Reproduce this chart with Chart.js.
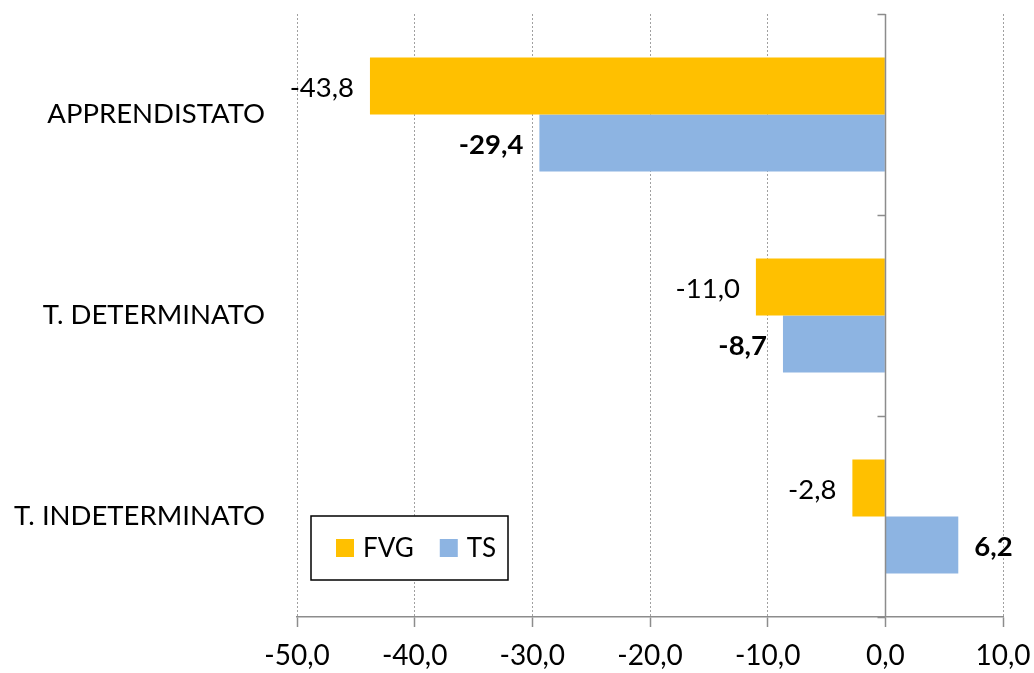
<!DOCTYPE html>
<html>
<head>
<meta charset="utf-8">
<script src="https://cdn.jsdelivr.net/npm/chart.js@4/dist/chart.umd.min.js"></script>
<style>
html,body{margin:0;padding:0;background:#fff;}
#wrap{width:1034px;height:673px;}
</style>
</head>
<body>
<div id="wrap"><canvas id="c" width="1034" height="673"></canvas></div>
<script>
const categories = ['APPRENDISTATO', 'T. DETERMINATO', 'T. INDETERMINATO'];
const fvgValues = [-43.8, -11.0, -2.8];
const tsValues = [-29.4, -8.7, 6.2];
const seriesNames = ['FVG', 'TS'];
const seriesColors = ['#FFC000', '#8DB4E2'];
const xTicks = [-50, -40, -30, -20, -10, 0, 10];

const FONT = 'Lato, "Open Sans", sans-serif';
const fmt = v => v.toFixed(1).replace('.', ',');

const zeroAxisPlugin = {
  id: 'zeroAxis',
  afterDatasetsDraw(chart) {
    const {ctx, chartArea, scales: {x, y}} = chart;
    const x0 = Math.round(x.getPixelForValue(0)) + 0.5;
    ctx.save();
    ctx.strokeStyle = '#8C8C8C';
    ctx.lineWidth = 1.5;
    ctx.beginPath();
    ctx.moveTo(x0, chartArea.top);
    ctx.lineTo(x0, chartArea.bottom);
    const bounds = [chartArea.top];
    for (let i = 0; i < categories.length - 1; i++) {
      bounds.push((y.getPixelForValue(i) + y.getPixelForValue(i + 1)) / 2);
    }
    bounds.push(chartArea.bottom);
    bounds.forEach(b => {
      const yy = Math.round(b) + 0.5;
      ctx.moveTo(x0 - 8, yy);
      ctx.lineTo(x0, yy);
    });
    ctx.stroke();
    ctx.restore();
  }
};

const dataLabelPlugin = {
  id: 'dataLabels',
  afterDatasetsDraw(chart) {
    const {ctx} = chart;
    ctx.save();
    chart.data.datasets.forEach((ds, di) => {
      const meta = chart.getDatasetMeta(di);
      ctx.font = (di === 1 ? 'bold ' : '') + '27.5px ' + FONT;
      ctx.fillStyle = '#000';
      ctx.textBaseline = 'middle';
      meta.data.forEach((el, i) => {
        const v = ds.data[i];
        const neg = v < 0;
        ctx.textAlign = neg ? 'right' : 'left';
        ctx.fillText(fmt(v), el.x + (neg ? -16 : 16), el.y + 2);
      });
    });
    ctx.restore();
  }
};

const boxLegendPlugin = {
  id: 'boxLegend',
  afterDraw(chart) {
    const {ctx} = chart;
    const bx = 311, by = 516, bw = 197, bh = 64;
    ctx.save();
    ctx.fillStyle = '#fff';
    ctx.fillRect(bx, by, bw, bh);
    ctx.strokeStyle = '#000';
    ctx.lineWidth = 1.5;
    ctx.strokeRect(bx, by, bw, bh);
    ctx.font = '26px ' + FONT;
    ctx.textBaseline = 'middle';
    ctx.textAlign = 'left';
    let cx = bx + 25;
    const cy = by + bh / 2;
    chart.data.datasets.forEach((ds, i) => {
      ctx.fillStyle = ds.backgroundColor;
      ctx.fillRect(cx, cy - 9, 18, 18);
      ctx.fillStyle = '#000';
      ctx.fillText(ds.label, cx + 27, cy + 1);
      cx += 27 + ctx.measureText(ds.label).width + 26;
    });
    ctx.restore();
  }
};

new Chart(document.getElementById('c'), {
  type: 'bar',
  data: {
    labels: categories,
    datasets: [
      {label: seriesNames[0], data: fvgValues, backgroundColor: seriesColors[0], categoryPercentage: 0.567, barPercentage: 1.0},
      {label: seriesNames[1], data: tsValues, backgroundColor: seriesColors[1], categoryPercentage: 0.567, barPercentage: 1.0}
    ]
  },
  options: {
    indexAxis: 'y',
    responsive: false,
    animation: false,
    layout: {padding: {top: 14, right: 31, left: 0, bottom: 0}},
    plugins: {legend: {display: false}, tooltip: {enabled: false}},
    scales: {
      x: {
        type: 'linear',
        min: xTicks[0],
        max: xTicks[xTicks.length - 1],
        afterBuildTicks: scale => { scale.ticks = xTicks.map(v => ({value: v})); },
        ticks: {
          callback: v => fmt(v),
          color: '#000',
          font: {family: FONT, size: 28},
          padding: 12,
          maxRotation: 0
        },
        grid: {
          color: ctx => (ctx.tick && ctx.tick.value === 0) ? 'rgba(0,0,0,0)' : '#A0A0A0',
          lineWidth: 1,
          tickLength: 10,
          tickColor: '#8C8C8C',
          tickWidth: 1.5
        },
        border: {display: true, color: '#8C8C8C', width: 1.5, dash: [2, 2]},
        afterFit: scale => {
          scale.height = 56;
          scale.paddingLeft = 0; scale.paddingRight = 0;
          scale.paddingTop = 0; scale.paddingBottom = 0;
        }
      },
      y: {
        type: 'category',
        position: 'left',
        grid: {display: false, drawTicks: false},
        border: {display: false},
        ticks: {
          color: '#000',
          font: {family: FONT, size: 27.5},
          padding: 32
        },
        afterFit: scale => {
          scale.width = 297;
          scale.paddingLeft = 0; scale.paddingRight = 0;
          scale.paddingTop = 0; scale.paddingBottom = 0;
        }
      }
    }
  },
  plugins: [zeroAxisPlugin, dataLabelPlugin, boxLegendPlugin]
});
</script>
</body>
</html>
